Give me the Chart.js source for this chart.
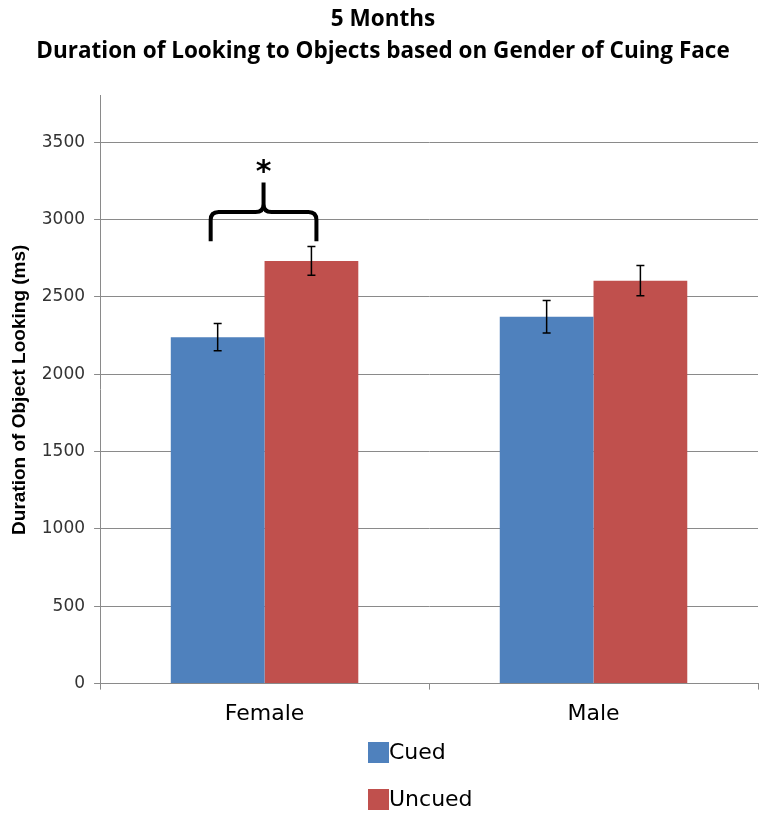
<!DOCTYPE html>
<html>
<head>
<meta charset="utf-8">
<script src="https://cdn.jsdelivr.net/npm/chart.js@4.4.1/dist/chart.umd.min.js"></script>
<style>
  html, body { margin: 0; padding: 0; background: #fff; }
  #wrap { width: 760px; height: 814px; position: relative; }
</style>
</head>
<body>
<div id="wrap"><canvas id="chart"></canvas></div>
<script>
// data
const categories = ['Female', 'Male'];
const seriesNames = ['Cued', 'Uncued'];
const cuedValues = [2240, 2372];
const uncuedValues = [2733, 2605];
const cuedErrors = [88, 105];
const uncuedErrors = [93, 98];
const yTicks = [0, 500, 1000, 1500, 2000, 2500, 3000, 3500];

const colors = ['#4F81BD', '#C0504D'];
const axisGray = '#8a8a8a';
const sans = '"DejaVu Sans", sans-serif';

// error bars on every bar
const errorBars = {
    id: 'errorBars',
    afterDatasetsDraw(chart) {
        const ctx = chart.ctx;
        const y = chart.scales.y;
        const errs = [cuedErrors, uncuedErrors];
        ctx.save();
        ctx.strokeStyle = '#000';
        ctx.lineWidth = 1.5;
        chart.data.datasets.forEach((ds, di) => {
            chart.getDatasetMeta(di).data.forEach((bar, i) => {
                const v = ds.data[i];
                const top = y.getPixelForValue(v + errs[di][i]);
                const bot = y.getPixelForValue(v - errs[di][i]);
                ctx.beginPath();
                ctx.moveTo(bar.x, top); ctx.lineTo(bar.x, bot);
                ctx.moveTo(bar.x - 4, top); ctx.lineTo(bar.x + 4, top);
                ctx.moveTo(bar.x - 4, bot); ctx.lineTo(bar.x + 4, bot);
                ctx.stroke();
            });
        });
        ctx.restore();
    }
};

// curly brace with asterisk over the Female pair
const brace = {
    id: 'brace',
    afterDraw(chart) {
        const ctx = chart.ctx;
        const y = chart.scales.y;
        const a = chart.getDatasetMeta(0).data[0];
        const b = chart.getDatasetMeta(1).data[0];
        const x1 = a.x - 7, x2 = b.x + 5, xm = (x1 + x2) / 2;
        const yEnd = y.getPixelForValue(2860);
        const yMid = y.getPixelForValue(3050);
        const yTip = y.getPixelForValue(3240);
        const r = 8;
        ctx.save();
        ctx.strokeStyle = '#000';
        ctx.lineWidth = 4;
        ctx.beginPath();
        ctx.moveTo(x1, yEnd);
        ctx.lineTo(x1, yMid + r);
        ctx.quadraticCurveTo(x1, yMid, x1 + r, yMid);
        ctx.lineTo(xm - r, yMid);
        ctx.quadraticCurveTo(xm, yMid, xm, yMid - r);
        ctx.lineTo(xm, yTip);
        ctx.moveTo(xm, yMid - r);
        ctx.quadraticCurveTo(xm, yMid, xm + r, yMid);
        ctx.lineTo(x2 - r, yMid);
        ctx.quadraticCurveTo(x2, yMid, x2, yMid + r);
        ctx.lineTo(x2, yEnd);
        ctx.stroke();
        ctx.fillStyle = '#000';
        ctx.font = 'bold 30px ' + sans;
        ctx.textAlign = 'center';
        ctx.textBaseline = 'middle';
        ctx.fillText('*', xm, y.getPixelForValue(3340) + 6);
        ctx.restore();
    }
};

// stacked legend under the axis
const stackedLegend = {
    id: 'stackedLegend',
    afterDraw(chart) {
        const ctx = chart.ctx;
        ctx.save();
        ctx.font = '22px ' + sans;
        ctx.textBaseline = 'middle';
        ctx.textAlign = 'left';
        seriesNames.forEach((name, i) => {
            const cy = 752 + i * 47;
            ctx.fillStyle = colors[i];
            ctx.fillRect(368, cy - 10, 21, 21);
            ctx.fillStyle = '#000';
            ctx.fillText(name, 389, cy + 1);
        });
        ctx.restore();
    }
};

new Chart(document.getElementById('chart'), {
    type: 'bar',
    data: {
        labels: categories,
        datasets: [{
            label: seriesNames[0],
            data: cuedValues,
            backgroundColor: colors[0]
        }, {
            label: seriesNames[1],
            data: uncuedValues,
            backgroundColor: colors[1]
        }]
    },
    options: {
        responsive: true,
        maintainAspectRatio: false,
        animation: false,
        categoryPercentage: 0.57,
        barPercentage: 1,
        layout: { padding: { left: 8, right: 2, top: 4, bottom: 76 } },
        plugins: {
            legend: { display: false },
            tooltip: { enabled: false },
            title: {
                display: true,
                text: ['5 Months', 'Duration of Looking to Objects based on Gender of Cuing Face'],
                color: '#000',
                font: { family: '"Open Sans", sans-serif', size: 22.5, weight: 'bold', lineHeight: 1.42 },
                padding: { top: 0, bottom: 28 }
            }
        },
        scales: {
            y: {
                min: 0,
                max: 3800,
                afterBuildTicks(scale) {
                    scale.ticks = yTicks.map(v => ({ value: v }));
                },
                border: { color: axisGray, width: 1 },
                grid: { color: axisGray, tickLength: 6, lineWidth: 1 },
                ticks: {
                    color: '#333',
                    padding: 9,
                    font: { family: sans, size: 17 },
                    callback: v => String(v)
                },
                title: {
                    display: true,
                    text: 'Duration of Object Looking (ms)',
                    color: '#000',
                    font: { family: '"Liberation Sans", Arial, sans-serif', size: 19, weight: 'bold' },
                    padding: { top: 0, bottom: 2 }
                }
            },
            x: {
                border: { color: axisGray, width: 1 },
                grid: { offset: true, drawOnChartArea: false, color: axisGray, tickLength: 6 },
                ticks: {
                    color: '#000',
                    padding: 11,
                    font: { family: sans, size: 22 }
                }
            }
        }
    },
    plugins: [errorBars, brace, stackedLegend]
});
</script>
</body>
</html>
